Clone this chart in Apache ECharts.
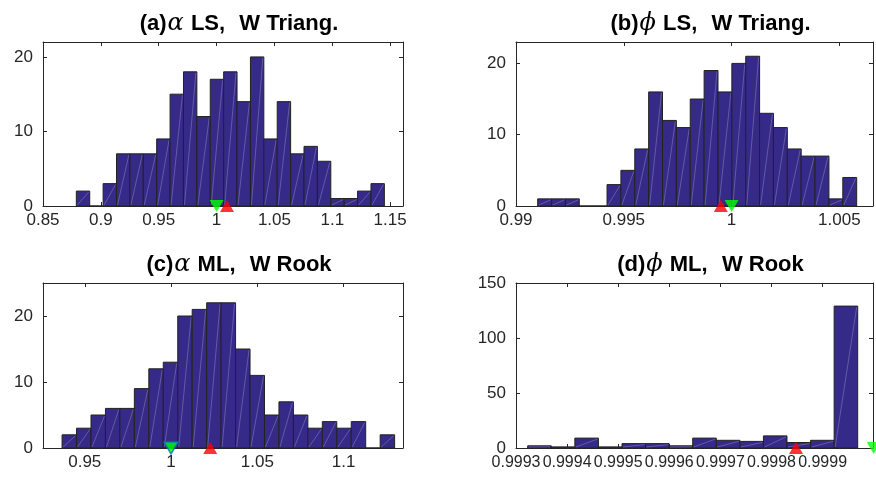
<!DOCTYPE html>
<html>
<head>
<meta charset="utf-8">
<script src="https://cdn.jsdelivr.net/npm/echarts@6/dist/echarts.min.js"></script>
<style>html,body{margin:0;padding:0;background:#fff}#c{width:876px;height:481px}</style>
</head>
<body>
<div id="c"></div>
<script>
// ---- data ----
// (a) alpha LS, W Triang.
const countsA = [2,0,3,7,7,7,9,15,18,12,17,18,14,20,9,14,7,8,6,1,1,2,3];
const binStartA = 0.8788, binWidthA = 0.011574;
const trueA = 1.0, estA = 1.009;
const xTicksA = [0.85,0.9,0.95,1,1.05,1.1,1.15];
const yTicksA = [0,10,20];
// (b) phi LS, W Triang.
const countsB = [1,1,1,0,0,3,5,8,16,12,11,15,19,16,20,21,13,11,8,7,7,1,4];
const binStartB = 0.991006, binWidthB = 0.0006433;
const trueB = 1.0, estB = 0.9995;
const xTicksB = [0.99,0.995,1,1.005];
const yTicksB = [0,10,20];
// (c) alpha ML, W Rook
const countsC = [2,3,5,6,6,9,12,13,20,21,22,22,15,11,5,7,5,3,4,3,4,0,2];
const binStartC = 0.93685, binWidthC = 0.008378;
const trueC = 1.0, estC = 1.0227;
const xTicksC = [0.95,1,1.05,1.1];
const yTicksC = [0,10,20];
// (d) phi ML, W Rook
const countsD = [2,1,9,1,4,4,2,9,7,6,11,5,7,129];
const binStartD = 0.9993229, binWidthD = 0.00004613;
const trueD = 1.0, estD = 0.999848;
const xTicksD = [0.9993,0.9994,0.9995,0.9996,0.9997,0.9998,0.9999];
const yTicksD = [0,50,100,150];

const titles = [
  ['(a)','α',' LS,','  W Triang.'],
  ['(b)','ϕ',' LS,','  W Triang.'],
  ['(c)','α',' ML,','  W Rook'],
  ['(d)','ϕ',' ML,','  W Rook']
];

// ---- layout ----
const panels = [
  {counts:countsA, s:binStartA, w:binWidthA, tv:trueA, ev:estA, xt:xTicksA, yt:yTicksA, xmin:0.85, xmax:1.1611, ymax:22, grid:{left:43, top:42, width:360, height:164}},
  {counts:countsB, s:binStartB, w:binWidthB, tv:trueB, ev:estB, xt:xTicksB, yt:yTicksB, xmin:0.99, xmax:1.006559, ymax:23, grid:{left:516, top:42, width:357, height:164}},
  {counts:countsC, s:binStartC, w:binWidthC, tv:trueC, ev:estC, xt:xTicksC, yt:yTicksC, xmin:0.9258, xmax:1.1344, ymax:25, grid:{left:43, top:283, width:360, height:165}, blueEdge:true},
  {counts:countsD, s:binStartD, w:binWidthD, tv:trueD, ev:estD, xt:xTicksD, yt:yTicksD, xmin:0.9993, xmax:0.99999863, ymax:150, grid:{left:516, top:283, width:357, height:165}, xfs:16}
];

const AX = '#262626';
const FONT = 'Liberation Sans';
const FS = 17;
const fmt = v => String(Number(v.toFixed(6)));

const grid = [], xAxis = [], yAxis = [], series = [], graphic = [];
panels.forEach((p, i) => {
  grid.push(Object.assign({containLabel:false}, p.grid));
  const common = {type:'value', gridIndex:i, splitLine:{show:false}, axisLine:{show:true, onZero:false, lineStyle:{color:AX, width:1}}};
  xAxis.push(Object.assign({}, common, {position:'bottom', min:p.xmin, max:p.xmax,
    axisTick:{inside:true, length:4, customValues:p.xt, lineStyle:{color:AX}},
    axisLabel:{customValues:p.xt, formatter:fmt, color:AX, fontSize:p.xfs || FS, fontFamily:FONT, margin:p.xfs ? 7 : 6, interval:0,
      hideOverlap:false, showMinLabel:true, showMaxLabel:true}}));
  xAxis.push(Object.assign({}, common, {position:'top', min:p.xmin, max:p.xmax,
    axisTick:{inside:true, length:4, customValues:p.xt, lineStyle:{color:AX}}, axisLabel:{show:false}}));
  yAxis.push(Object.assign({}, common, {position:'left', min:0, max:p.ymax,
    axisTick:{inside:true, length:4, customValues:p.yt, lineStyle:{color:AX}},
    axisLabel:{customValues:p.yt, color:AX, fontSize:FS, fontFamily:FONT, margin:10, interval:0, showMinLabel:true, showMaxLabel:true}}));
  yAxis.push(Object.assign({}, common, {position:'right', min:0, max:p.ymax,
    axisTick:{inside:true, length:4, customValues:p.yt, lineStyle:{color:AX}}, axisLabel:{show:false}}));

  const data = p.counts.map((c, k) => [p.s + k * p.w, p.s + (k + 1) * p.w, c]);
  series.push({
    type:'custom', coordinateSystem:'cartesian2d', xAxisIndex:2*i, yAxisIndex:2*i,
    data, encode:{x:[0,1], y:2}, clip:false,
    renderItem:(params, api) => {
      const p0 = api.coord([api.value(0), 0]);
      const p1 = api.coord([api.value(1), api.value(2)]);
      const h = p0[1] - p1[1];
      const children = [{type:'rect', shape:{x:p0[0], y:p1[1], width:p1[0]-p0[0], height:h},
        style:{fill:'#352a87', stroke:'#222', lineWidth:1}}];
      if (h > 2) children.push({type:'line', shape:{x1:p0[0]+1, y1:p0[1]-1, x2:p1[0]-1, y2:p1[1]+1},
        style:{stroke:'rgba(185,185,225,0.42)', lineWidth:0.8}});
      return {type:'group', children};
    }
  });
  series.push({type:'scatter', xAxisIndex:2*i, yAxisIndex:2*i, data:[[p.ev, 0]], symbol:'triangle',
    symbolSize:[14,12], clip:false, itemStyle:{color:'#ff0000'}, z:5});
  series.push({type:'scatter', xAxisIndex:2*i, yAxisIndex:2*i, data:[[p.tv, 0]], symbol:'triangle', symbolRotate:180,
    symbolSize:[14,12], clip:false, itemStyle:{color:'#00ff00', borderColor:p.blueEdge?'#0072bd':'#00ff00', borderWidth:p.blueEdge?1.5:0}, z:6});

  const t = titles[i];
  graphic.push({type:'text', x:p.grid.left + p.grid.width/2 + 16, y:p.grid.top - 18,
    style:{text:'{b|' + t[0] + '}{g|' + t[1] + '}{c|' + t[2] + '}{b|' + t[3] + '}', align:'center', verticalAlign:'middle',
      rich:{
        b:{fontFamily:FONT, fontWeight:'bold', fontSize:22, fill:'#000'},
        c:{fontFamily:FONT, fontWeight:'bold', fontSize:22, fill:'#000', padding:[0,2,0,0]},
        g:{fontFamily:'DejaVu Serif', fontStyle:'italic', fontSize:24, fill:'#000', padding:[0,1,0,1]}}}});
});

const chart = echarts.init(document.getElementById('c'), null, {renderer:'canvas'});
chart.setOption({animation:false, backgroundColor:'#fff', grid, xAxis, yAxis, series, graphic});
</script>
</body>
</html>
